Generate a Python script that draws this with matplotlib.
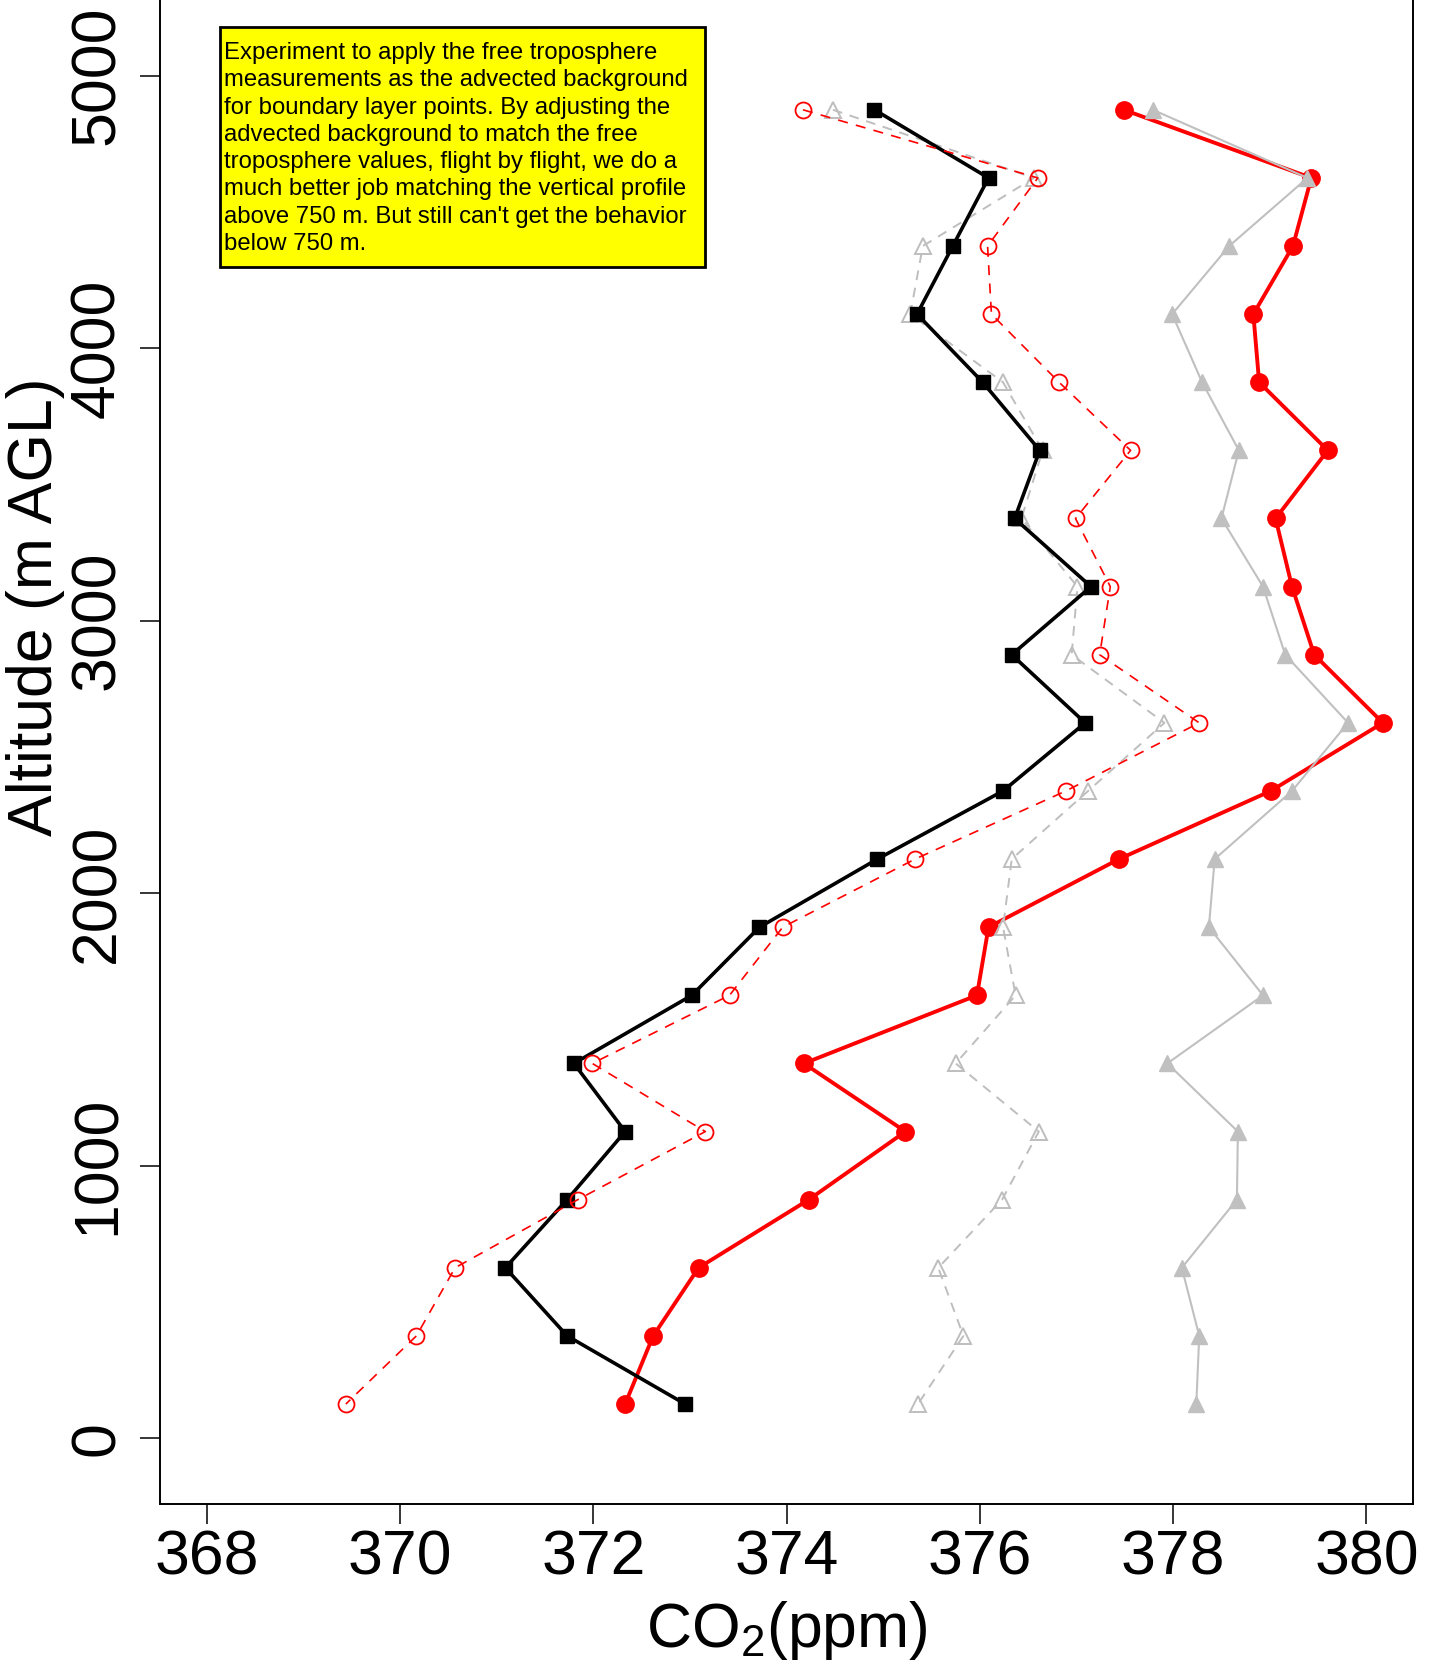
import matplotlib
matplotlib.use("Agg")
import matplotlib.pyplot as plt
from matplotlib.patches import Rectangle

plt.rcParams["font.family"] = ["Liberation Sans", "DejaVu Sans"]
plt.rcParams["mathtext.default"] = "regular"

# altitude levels (m AGL), top to bottom
altitude = [4875, 4625, 4375, 4125, 3875, 3625, 3375, 3125, 2875, 2625,
            2375, 2125, 1875, 1625, 1375, 1125, 875, 625, 375, 125]

# CO2 profiles (ppm)
black_sq = [374.91, 376.09, 375.72, 375.35, 376.03, 376.62, 376.36, 377.15, 376.33, 377.09,
            376.24, 374.94, 373.72, 373.02, 371.80, 372.33, 371.73, 371.09, 371.73, 372.95]
red_open = [374.17, 376.60, 376.08, 376.12, 376.82, 377.56, 376.99, 377.35, 377.24, 378.27,
            376.89, 375.33, 373.96, 373.41, 371.99, 373.16, 371.84, 370.57, 370.17, 369.44]
gray_open = [374.48, 376.56, 375.41, 375.28, 376.24, 376.65, 376.43, 377.01, 376.95, 377.91,
             377.12, 376.33, 376.24, 376.37, 375.75, 376.61, 376.23, 375.57, 375.83, 375.36]
red_fill = [377.49, 379.43, 379.24, 378.83, 378.89, 379.60, 379.06, 379.23, 379.46, 380.17,
            379.01, 377.44, 376.09, 375.97, 374.18, 375.23, 374.23, 373.09, 372.62, 372.33]
gray_fill = [377.79, 379.39, 378.58, 377.99, 378.30, 378.68, 378.50, 378.93, 379.16, 379.81,
             379.23, 378.43, 378.37, 378.93, 377.94, 378.67, 378.66, 378.09, 378.27, 378.24]

x_ticks = [368, 370, 372, 374, 376, 378, 380]
y_ticks = [0, 1000, 2000, 3000, 4000, 5000]

note = ("Experiment to apply the free troposphere\n"
        "measurements as the advected background\n"
        "for boundary layer points. By adjusting the\n"
        "advected background to match the free\n"
        "troposphere values, flight by flight, we do a\n"
        "much better job matching the vertical profile\n"
        "above 750 m. But still can't get the behavior\n"
        "below 750 m.")

W, H = 1435, 1660
fig = plt.figure(figsize=(W / 100, H / 100), dpi=100)
ax = fig.add_axes([160 / W, (H - 1504) / H, (1413 - 160) / W, 1504 / H])

gray = "#bebebe"
ax.plot(red_fill, altitude, color="red", lw=2.8, marker="o", ms=12.5, zorder=2)
ax.plot(gray_fill, altitude, color="#c0c0c0", lw=1.5, marker="^", ms=12, zorder=3)
ax.plot(gray_open, altitude, color=gray, lw=1.4, ls=(0, (5, 4)), marker="^", ms=12,
        mfc="none", mew=1.4, zorder=4)
ax.plot(black_sq, altitude, color="black", lw=2.6, marker="s", ms=10.5, zorder=5)
ax.plot(red_open, altitude, color="red", lw=1.2, ls=(0, (6, 5)), marker="o", ms=11.5,
        mfc="none", mew=1.3, zorder=6)

ax.set_xlim(367.517, 380.482)
ax.set_ylim(-242, 5278)
ax.spines["top"].set_visible(False)
for s in ["left", "right", "bottom"]:
    ax.spines[s].set_linewidth(1.4)

ax.set_xticks(x_ticks)
ax.set_yticks(y_ticks)
ax.set_xticklabels([str(v) for v in x_ticks])
ax.set_yticklabels([str(v) for v in y_ticks], rotation=90, va="center")
ax.tick_params(axis="both", direction="out", length=14.5, width=1.1, labelsize=45)
ax.tick_params(axis="x", pad=3)
ax.tick_params(axis="y", pad=9)

fig.text(787 / W, (H - 1647) / H, "CO$_2$(ppm)", fontsize=45, ha="center", va="baseline")
fig.text(36 / W, (H - 607) / H, "Altitude (m AGL)", fontsize=45, rotation=90,
         ha="center", va="center")

# yellow note box
fig.patches.append(Rectangle((220 / W, (H - 267) / H), 485 / W, 240 / H,
                             transform=fig.transFigure, facecolor="yellow",
                             edgecolor="black", lw=2, zorder=10))
fig.text(224 / W, (H - 42) / H, note, fontsize=17.2, ha="left", va="top",
         linespacing=1.31, zorder=11)

fig.savefig("out.png", dpi=100)
